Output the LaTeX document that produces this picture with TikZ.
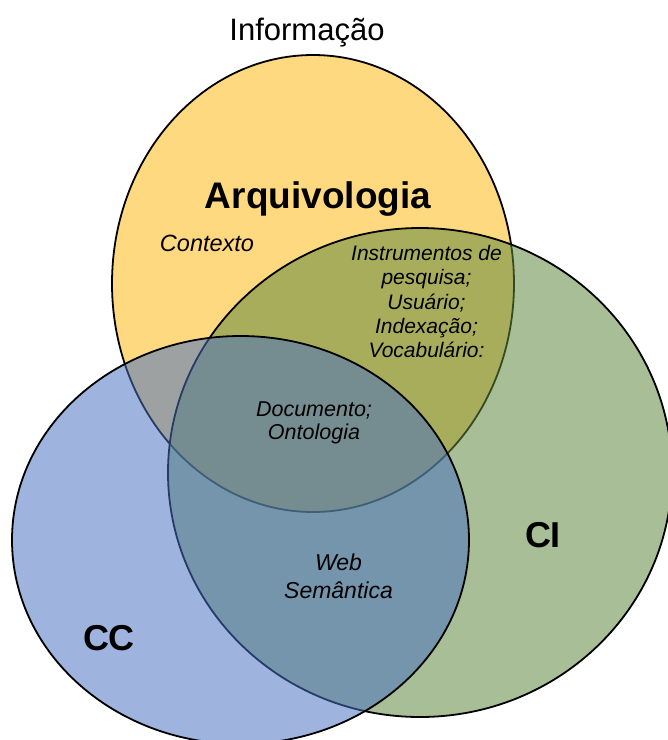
\documentclass[tikz,border=0pt]{standalone}
\usepackage{fontspec}
\setmainfont{Liberation Sans}
\definecolor{arqyellow}{RGB}{255,217,127}
\definecolor{cigreen}{RGB}{97,137,64}
\definecolor{ccblue}{RGB}{72,113,192}
\begin{document}
\begin{tikzpicture}[x=1pt,y=-1pt,
  setline/.style={draw=black, line width=1.8pt},
  titletext/.style={font=\fontsize{31}{36}\selectfont, inner sep=0pt},
  areatext/.style={font=\fontsize{37}{42}\selectfont\bfseries, inner sep=0pt},
  notetext/.style={font=\fontsize{21}{24.3}\selectfont\itshape, align=center, inner sep=0pt}]
\useasboundingbox (0,0) rectangle (668,740);
\clip (0,0) rectangle (668,740);
\fill[white] (0,0) rectangle (668,740);
% the three sets: Arquivologia, CI, CC
\path[setline, fill=arqyellow] (313,283.5) ellipse [x radius=201pt, y radius=228.5pt];
\path[setline, fill=cigreen, fill opacity=0.55] (420,472.5) ellipse [x radius=252pt, y radius=244.5pt];
\path[setline, fill=ccblue, fill opacity=0.53] (240.5,540) ellipse [x radius=228.5pt, y radius=204pt];
% labels
\node[titletext, anchor=base] (info) at (307,40) {Informação};
\node[areatext, anchor=base] (arq) at (318,208) {Arquivologia};
\node[areatext, font=\fontsize{36}{40}\selectfont\bfseries, anchor=base] (ci) at (543,547) {CI};
\node[areatext, font=\fontsize{36}{40}\selectfont\bfseries, anchor=base] (cc) at (109,650) {CC};
\node[notetext, font=\fontsize{23.5}{28}\selectfont\itshape, anchor=base] (contexto) at (207,251) {Contexto};
\node[notetext, anchor=north] (instr) at (426.5,245)
  {Instrumentos de\\pesquisa;\\Usuário;\\Indexação;\\Vocabulário:};
\node[notetext, font=\fontsize{21.5}{23}\selectfont\itshape, anchor=north] (doc) at (314,401.5)
  {Documento;\\Ontologia};
\node[notetext, font=\fontsize{23}{28}\selectfont\itshape, anchor=north] (web) at (338.5,553.5)
  {Web\\Semântica};
\end{tikzpicture}
\end{document}
